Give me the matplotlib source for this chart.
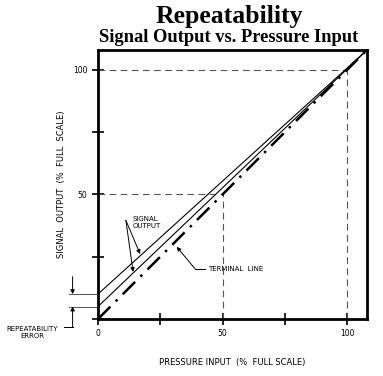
import numpy as np
import matplotlib
matplotlib.use('Agg')
import matplotlib.pyplot as plt

# chart values (percent of full scale)
x_max = 108
terminal_start = 0
signal_starts = [10, 5]          # two signal output lines at 0 % input
tick_pos = [0, 25, 50, 75, 100]
xtick_labels = ['0', '', '50', '', '100']
ytick_labels = ['', '', '50', '', '100']
guide_levels = [50, 100]          # dashed reference lines

fig = plt.figure(figsize=(3.83, 3.76), dpi=100)
ax = fig.add_axes([98/383, 57/376, 269/383, 269/376])

sans = 'DejaVu Sans'
serif = 'Liberation Serif'

# dashed guides
for g in guide_levels:
    ax.plot([0, g], [g, g], color='#555555', lw=0.8, ls=(0, (6, 4)))
    ax.plot([g, g], [0, g], color='#555555', lw=0.8, ls=(0, (6, 4)))

# terminal line
ax.plot([0, x_max], [terminal_start, x_max], color='black', lw=1.8,
        ls=(0, (7, 3, 1, 3)))

# signal output lines
for s in signal_starts:
    ax.plot([0, x_max], [s, x_max], color='black', lw=0.8)

ax.set_xlim(0, x_max)
ax.set_ylim(0, x_max)
ax.set_xticks(tick_pos)
ax.set_yticks(tick_pos)
ax.set_xticklabels(xtick_labels, fontsize=5.5, family=sans)
ax.set_yticklabels(ytick_labels, fontsize=5.5, family=sans)
ax.tick_params(direction='inout', length=9, width=1.2, pad=3)
for sp in ax.spines.values():
    sp.set_linewidth(2)

ax.set_xlabel('PRESSURE INPUT  (%  FULL SCALE)', fontsize=6, family=sans, labelpad=14)
ax.set_ylabel('SIGNAL  OUTPUT  (%  FULL  SCALE)', fontsize=6, family=sans, labelpad=5)

arrow = dict(arrowstyle='-|>', color='black', lw=0.7, mutation_scale=6,
             shrinkA=0, shrinkB=0)

# signal output annotation
ax.text(14, 38.8, 'SIGNAL\nOUTPUT', fontsize=5, family=sans, va='center', ha='left',
        linespacing=1.1)
for tx, ty in [(16.9, 26.1), (14.1, 18.9)]:
    ax.annotate('', xy=(tx, ty), xytext=(11.2, 39.6), arrowprops=arrow)

# terminal line annotation
ax.text(44.2, 20.1, 'TERMINAL  LINE', fontsize=5, family=sans, va='center', ha='left')
ax.plot([43.0, 39.0], [20.1, 20.1], color='black', lw=0.7)
ax.annotate('', xy=(31.6, 29.0), xytext=(39.0, 20.1), arrowprops=arrow)

# repeatability error marker
for s in signal_starts:
    ax.plot([-11.5, 0], [s, s], color='#555555', lw=0.7, clip_on=False)
ax.annotate('', xy=(-10.2, signal_starts[0]), xytext=(-10.2, 17),
            arrowprops=arrow, annotation_clip=False)
ax.annotate('', xy=(-10.2, signal_starts[1]), xytext=(-10.2, -3.3),
            arrowprops=arrow, annotation_clip=False)
ax.plot([-10.2, -13.5], [-3.3, -3.3], color='black', lw=0.7, clip_on=False)
ax.text(-26.5, -5.5, 'REPEATABILITY\nERROR', fontsize=5, family=sans, ha='center',
        va='center', linespacing=1.1)

fig.text(229/383, 1 - 17/376, 'Repeatability', fontsize=18.5, family=serif,
         fontweight='bold', ha='center', va='center')
fig.text(229/383, 1 - 37/376, 'Signal Output vs. Pressure Input', fontsize=13.3,
         family=serif, fontweight='bold', ha='center', va='center')

fig.savefig('out.png', dpi=100)
